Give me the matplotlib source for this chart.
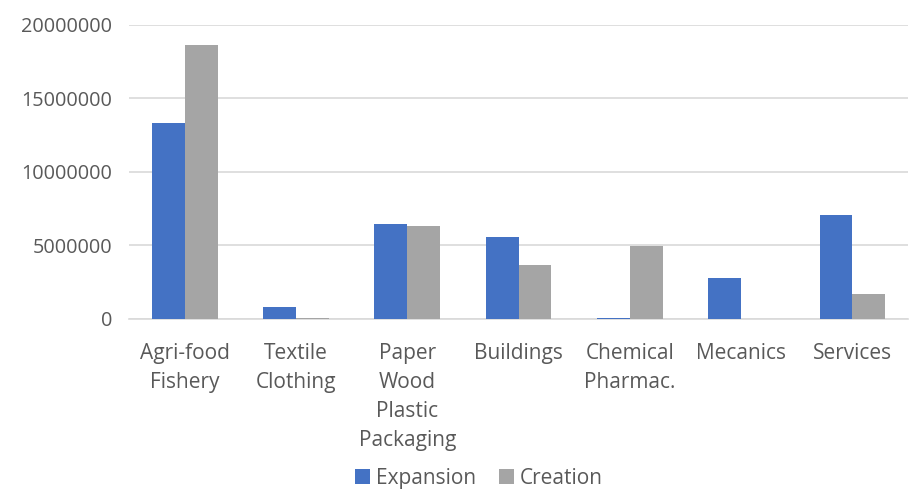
import matplotlib
matplotlib.use("Agg")
import matplotlib.pyplot as plt
import numpy as np

categories = ["Agri-food\nFishery", "Textile\nClothing", "Paper\nWood\nPlastic\nPackaging",
              "Buildings", "Chemical\nPharmac.", "Mecanics", "Services"]
expansion = [13350000, 820000, 6460000, 5580000, 50000, 2790000, 7070000]
creation = [18650000, 100000, 6330000, 3670000, 4970000, 0, 1700000]
yticks = [0, 5000000, 10000000, 15000000, 20000000]

plt.rcParams['font.family'] = ['Open Sans', 'DejaVu Sans']
txt = '#595959'

fig = plt.figure(figsize=(9.09, 4.9), dpi=100)
ax = fig.add_axes([0.142, 0.349, 0.857, 0.600])
x = np.arange(len(categories))
w = 0.295
ax.bar(x - w/2, expansion, w, color='#4472C4', label='Expansion', zorder=3)
ax.bar(x + w/2, creation, w, color='#A5A5A5', label='Creation', zorder=3)
ax.set_xlim(-0.5, len(categories) - 0.5)
ax.set_ylim(0, 20000000)
ax.set_yticks(yticks)
ax.set_yticklabels([str(v) for v in yticks], fontsize=14.3, color=txt)
ax.yaxis.grid(True, color='#D9D9D9', linewidth=1.2, zorder=0)
ax.set_xticks(x)
ax.set_xticklabels(categories, fontsize=15, color=txt, linespacing=1.5, va='top')
ax.tick_params(axis='both', length=0)
ax.tick_params(axis='x', pad=17)
ax.tick_params(axis='y', pad=12)
for s in ['top', 'right', 'left']:
    ax.spines[s].set_visible(False)
ax.spines['bottom'].set_color('#D9D9D9')
ax.spines['bottom'].set_linewidth(1.2)
fig.legend(loc='lower center', bbox_to_anchor=(0.527, -0.036), ncol=2, frameon=False,
           fontsize=15, labelcolor=txt, handlelength=0.7, handleheight=0.7,
           handletextpad=0.3, columnspacing=1.1)
fig.savefig('out.png', dpi=100)
